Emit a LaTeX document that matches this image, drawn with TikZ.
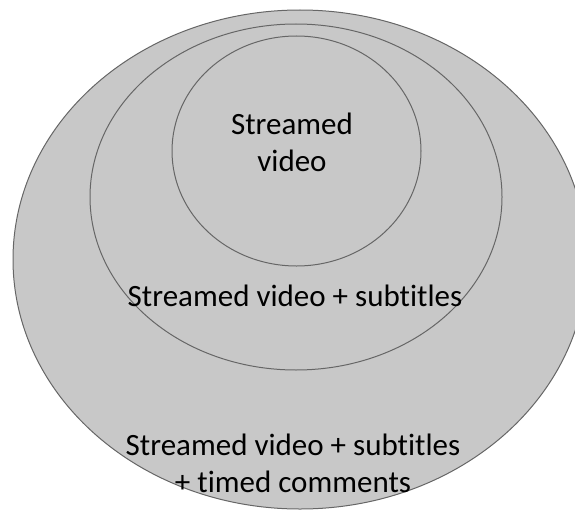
\documentclass[tikz,border=0pt]{standalone}
\usepackage{fontspec}
\setmainfont[RawFeature={-liga,-clig}]{Carlito}
\usetikzlibrary{shapes.geometric}
\definecolor{setfill}{HTML}{C8C8C8}
\definecolor{setline}{HTML}{666666}
\tikzset{
  setshape/.style={ellipse, draw=setline, fill=setfill, line width=1pt, inner sep=0pt},
  label/.style={font=\fontsize{31}{37}\selectfont, text=black, align=center, inner sep=0pt}
}
\begin{document}
\begin{tikzpicture}[x=1pt,y=-1pt]
\useasboundingbox (0,0) rectangle (575,511);
\clip (0,0) rectangle (575,511);
\node[setshape, minimum width=574pt, minimum height=499pt] (outer) at (300,259.5) {};
\node[setshape, minimum width=412pt, minimum height=346pt] (middle) at (296,197) {};
\node[setshape, minimum width=249pt, minimum height=230pt] (inner) at (296.5,151) {};
\node[label] (t1) at (292,142) {Streamed\\video};
\node[label] (t2) at (295,296) {Streamed video + subtitles};
\node[label] (t3) at (293,463) {Streamed video + subtitles\\+ timed comments};
\end{tikzpicture}
\end{document}
